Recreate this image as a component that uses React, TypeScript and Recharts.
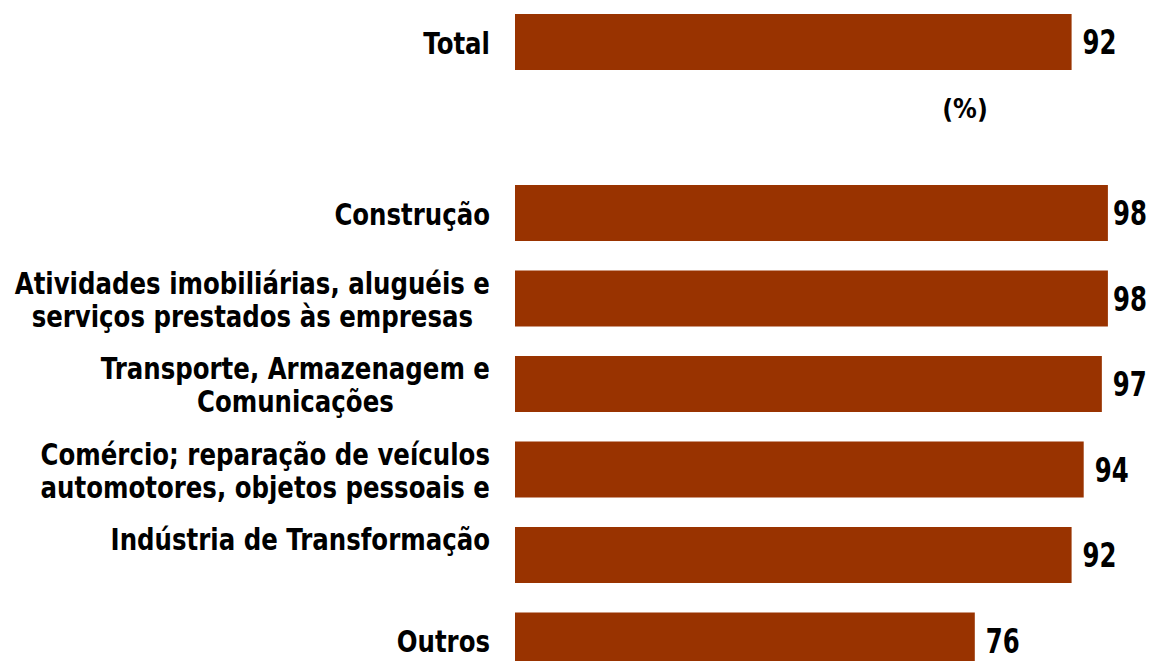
import { Bar, BarChart, LabelList, XAxis, YAxis } from "recharts";

// rows top to bottom; the empty row is the gap under "Total"
const categories = [
  "Total",
  "",
  "Construção",
  "Atividades imobiliárias, aluguéis e\nserviços prestados às empresas",
  "Transporte, Armazenagem e\nComunicações",
  "Comércio; reparação de veículos\nautomotores, objetos pessoais e",
  "Indústria de Transformação\n",
  "Outros",
];
const percents = [92, null, 98, 98, 97, 94, 92, 76];
const unitNote = "(%)";

const data = categories.map((name, i) => ({ name, value: percents[i] }));

const CHART_W = 1150;
const BAR_COLOR = "#993300";
const FONT = "'DejaVu Sans', Verdana, sans-serif";
const LABEL_SIZE = 30;
const LABEL_SX = 0.815;
const VALUE_SIZE = 33;
const VALUE_SX = 0.74;
const LINE_GAP = 33;
const LABEL_RIGHT = 490;

let ctx: CanvasRenderingContext2D | null = null;
function measure(text: string, size: number) {
  if (!ctx) ctx = document.createElement("canvas").getContext("2d");
  if (!ctx) return text.length * size * 0.6;
  ctx.font = `bold ${size}px ${FONT}`;
  return ctx.measureText(text).width;
}

function CategoryTick(props: any) {
  const { y, payload } = props;
  const lines = String(payload.value).split("\n");
  if (!lines[0]) return null;
  const blockW = Math.max(...lines.map((l) => measure(l, LABEL_SIZE))) * LABEL_SX;
  const cx = LABEL_RIGHT - blockW / 2;
  return (
    <g>
      {lines.map((line, i) => (
        <g key={i} transform={`translate(${cx}, ${y + 12 + (i - (lines.length - 1) / 2) * LINE_GAP}) scale(${LABEL_SX}, 1)`}>
          <text x={0} y={0} textAnchor="middle" fontFamily={FONT} fontWeight="bold" fontSize={LABEL_SIZE} fill="#000">
            {line}
          </text>
        </g>
      ))}
    </g>
  );
}

function ValueLabel(props: any) {
  const { x, y, width, height, value } = props;
  if (value == null) return null;
  const textW = measure(String(value), VALUE_SIZE) * VALUE_SX;
  // squeeze against the right edge when the bar is long
  const lx = Math.min(x + width + 11, CHART_W - 3 - textW);
  return (
    <g transform={`translate(${lx}, ${y + height / 2 + 12}) scale(${VALUE_SX}, 1)`}>
      <text x={0} y={0} fontFamily={FONT} fontWeight="bold" fontSize={VALUE_SIZE} fill="#000">
        {value}
      </text>
    </g>
  );
}

export default function App() {
  return (
    <div style={{ position: "absolute", left: 0, top: 0, width: CHART_W, height: 661, overflow: "hidden", background: "#fff" }}>
      <div style={{ marginTop: -1 }}>
        <BarChart
          width={CHART_W}
          height={684}
          data={data}
          layout="vertical"
          margin={{ top: 0, right: 30, bottom: 0, left: 0 }}
        >
          <XAxis type="number" domain={[0, 100]} hide />
          <YAxis
            type="category"
            dataKey="name"
            width={515}
            axisLine={false}
            tickLine={false}
            interval={0}
            tick={<CategoryTick />}
          />
          <Bar dataKey="value" fill={BAR_COLOR} barSize={56} isAnimationActive={false}>
            <LabelList dataKey="value" content={<ValueLabel />} />
          </Bar>
        </BarChart>
      </div>
      <div
        style={{
          position: "absolute",
          left: 965,
          top: 94,
          transform: "translateX(-50%) scaleX(0.88)",
          fontFamily: FONT,
          fontWeight: "bold",
          fontSize: 27,
          lineHeight: "30px",
          color: "#000",
          whiteSpace: "nowrap",
        }}
      >
        {unitNote}
      </div>
    </div>
  );
}
